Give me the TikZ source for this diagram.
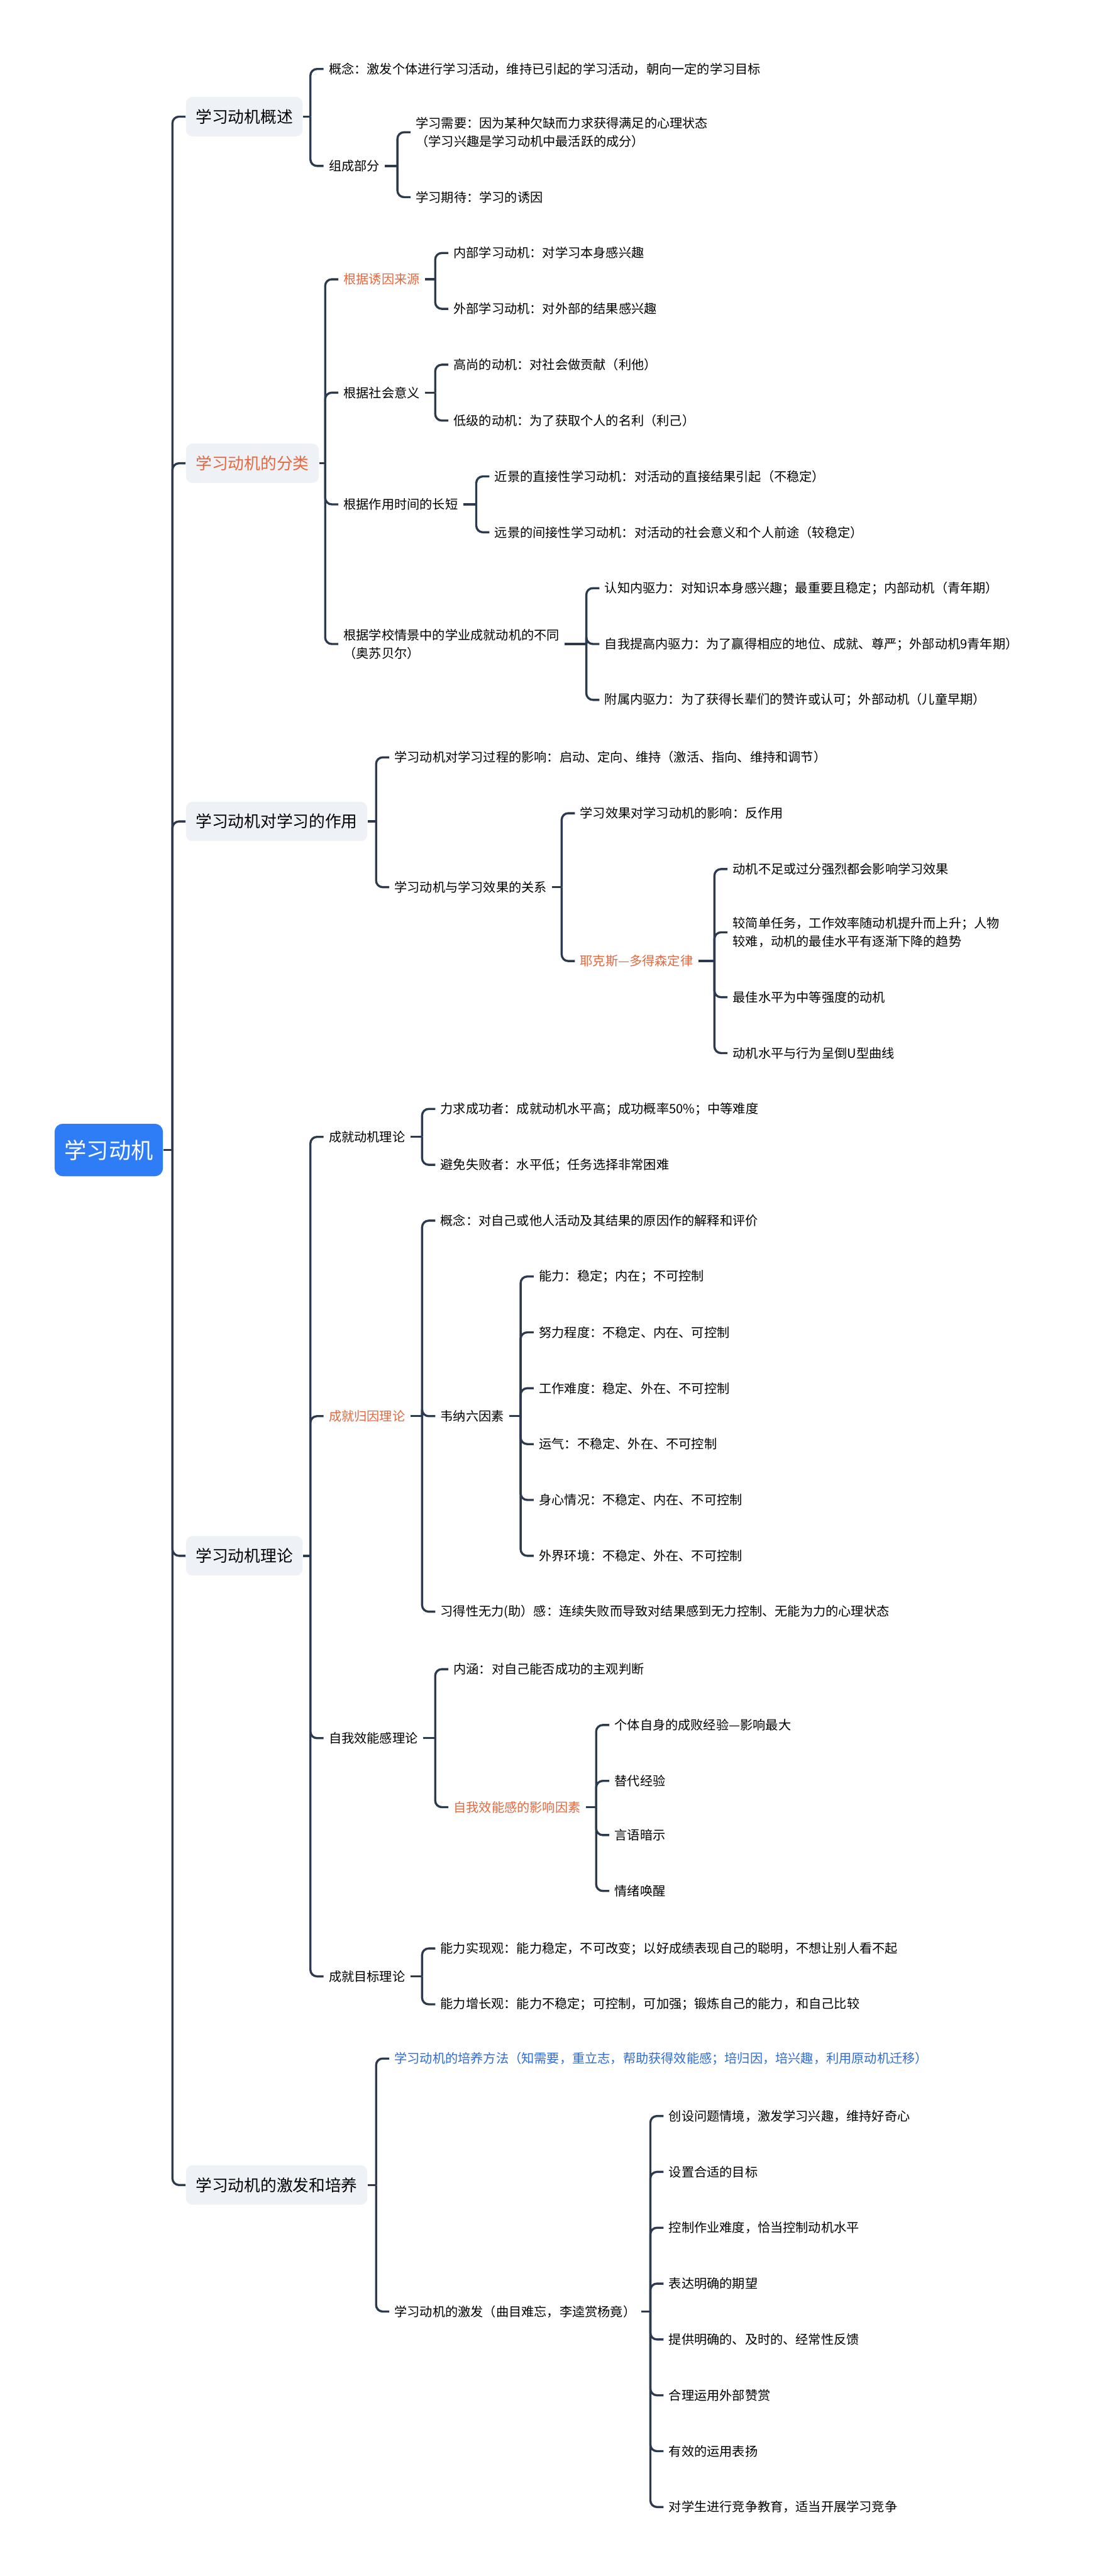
\documentclass[tikz,border=0pt]{standalone}
\usepackage{fontspec}
\setmainfont{Noto Sans CJK SC}
\usetikzlibrary{calc}

\definecolor{linecol}{HTML}{2B3A4E}
\definecolor{boxgray}{HTML}{EEF1F5}
\definecolor{hotcol}{HTML}{E4683E}
\definecolor{coolcol}{HTML}{2F6BD6}
\definecolor{rootblue}{HTML}{2F7DF6}

% parent, first child, all children
\newcommand{\fork}[3]{%
  \coordinate (#1-b) at ($(#2.west |- #1.east)+(-8,0)$);
  \draw[link] (#1.east) -- (#1-b);
  \foreach \kid in {#3} {\draw[link, rounded corners=0.12cm] (#1-b) |- (\kid.west);}
}

\begin{document}
\begin{tikzpicture}[x=0.03cm, y=-0.03cm,
    link/.style={draw=linecol, line width=1.1pt},
    root/.style={fill=rootblue, text=white, rounded corners=0.15cm, anchor=west,
      minimum width=1.98cm, minimum height=0.96cm, font=\fontsize{11.5}{14}\selectfont},
    major/.style={fill=boxgray, rounded corners=0.12cm, anchor=west, inner xsep=0.18cm,
      minimum height=0.72cm, font=\fontsize{8.4}{10}\selectfont},
    leaf/.style={anchor=west, align=left, inner xsep=0.09cm, inner ysep=0.06cm,
      font=\fontsize{6.6}{9.4}\selectfont},
    hot/.style={leaf, text=hotcol},
    cool/.style={leaf, text=coolcol}]

    \fill[white] (0,0) rectangle (672,1568);
    \useasboundingbox (0,0) rectangle (672,1568);

    % the root and the main topics
    \node[root] (root) at (33,700) {学习动机};
    \node[major] (ov) at (113,71) {学习动机概述};
    \node[major, text=hotcol] (cls) at (113,282) {学习动机的分类};
    \node[major] (eff) at (113,500) {学习动机对学习的作用};
    \node[major] (thy) at (113,947) {学习动机理论};
    \node[major] (cul) at (113,1330) {学习动机的激发和培养};

    \fork{root}{ov}{ov,cls,eff,thy,cul}

    % overview
    \node[leaf] (ov1) at (197,42) {概念：激发个体进行学习活动，维持已引起的学习活动，朝向一定的学习目标};
    \node[leaf] (ov2) at (197,101) {组成部分};
    \node[leaf] (ov21) at (250,80.5) {学习需要：因为某种欠缺而力求获得满足的心理状态\\（学习兴趣是学习动机中最活跃的成分）};
    \node[leaf] (ov22) at (250,120) {学习期待：学习的诱因};

    \fork{ov}{ov1}{ov1,ov2}
    \fork{ov2}{ov21}{ov21,ov22}

    % classification
    \node[hot] (cl1) at (206,170) {根据诱因来源};
    \node[leaf] (cl2) at (206,239) {根据社会意义};
    \node[leaf] (cl3) at (206,307) {根据作用时间的长短};
    \node[leaf] (cl4) at (206,392) {根据学校情景中的学业成就动机的不同\\（奥苏贝尔）};

    \node[leaf] (cl11) at (273,154) {内部学习动机：对学习本身感兴趣};
    \node[leaf] (cl12) at (273,188) {外部学习动机：对外部的结果感兴趣};
    \node[leaf] (cl21) at (273,222) {高尚的动机：对社会做贡献（利他）};
    \node[leaf] (cl22) at (273,256) {低级的动机：为了获取个人的名利（利己）};
    \node[leaf] (cl31) at (298,290) {近景的直接性学习动机：对活动的直接结果引起（不稳定）};
    \node[leaf] (cl32) at (298,324) {远景的间接性学习动机：对活动的社会意义和个人前途（较稳定）};
    \node[leaf] (cl41) at (365,358) {认知内驱力：对知识本身感兴趣；最重要且稳定；内部动机（青年期）};
    \node[leaf] (cl42) at (365,392) {自我提高内驱力：为了赢得相应的地位、成就、尊严；外部动机9青年期）};
    \node[leaf] (cl43) at (365,426) {附属内驱力：为了获得长辈们的赞许或认可；外部动机（儿童早期）};

    \fork{cls}{cl1}{cl1,cl2,cl3,cl4}
    \fork{cl1}{cl11}{cl11,cl12}
    \fork{cl2}{cl21}{cl21,cl22}
    \fork{cl3}{cl31}{cl31,cl32}
    \fork{cl4}{cl41}{cl41,cl42,cl43}

    % effect on learning
    \node[leaf] (ef1) at (237,461) {学习动机对学习过程的影响：启动、定向、维持（激活、指向、维持和调节）};
    \node[leaf] (ef2) at (237,540) {学习动机与学习效果的关系};
    \node[leaf] (ef21) at (350,495) {学习效果对学习动机的影响：反作用};
    \node[hot] (ef22) at (350,585) {耶克斯—多得森定律};
    \node[leaf] (yd1) at (443,529) {动机不足或过分强烈都会影响学习效果};
    \node[leaf] (yd2) at (443,567.5) {较简单任务，工作效率随动机提升而上升；人物\\较难，动机的最佳水平有逐渐下降的趋势};
    \node[leaf] (yd3) at (443,607) {最佳水平为中等强度的动机};
    \node[leaf] (yd4) at (443,641) {动机水平与行为呈倒U型曲线};

    \fork{eff}{ef1}{ef1,ef2}
    \fork{ef2}{ef21}{ef21,ef22}
    \fork{ef22}{yd1}{yd1,yd2,yd3,yd4}

    % theories
    \node[leaf] (th1) at (197,692) {成就动机理论};
    \node[hot] (th2) at (197,862) {成就归因理论};
    \node[leaf] (th3) at (197,1058) {自我效能感理论};
    \node[leaf] (th4) at (197,1203) {成就目标理论};

    \node[leaf] (th11) at (265,675) {力求成功者：成就动机水平高；成功概率50\%；中等难度};
    \node[leaf] (th12) at (265,709) {避免失败者：水平低；任务选择非常困难};

    \node[leaf] (th21) at (265,743) {概念：对自己或他人活动及其结果的原因作的解释和评价};
    \node[leaf] (th22) at (265,862) {韦纳六因素};
    \node[leaf] (th23) at (265,981) {习得性无力(助）感：连续失败而导致对结果感到无力控制、无能为力的心理状态};
    \node[leaf] (wn1) at (325,777) {能力：稳定；内在；不可控制};
    \node[leaf] (wn2) at (325,811) {努力程度：不稳定、内在、可控制};
    \node[leaf] (wn3) at (325,845) {工作难度：稳定、外在、不可控制};
    \node[leaf] (wn4) at (325,879) {运气：不稳定、外在、不可控制};
    \node[leaf] (wn5) at (325,913) {身心情况：不稳定、内在、不可控制};
    \node[leaf] (wn6) at (325,947) {外界环境：不稳定、外在、不可控制};

    \node[leaf] (th31) at (273,1016) {内涵：对自己能否成功的主观判断};
    \node[hot] (th32) at (273,1100) {自我效能感的影响因素};
    \node[leaf] (se1) at (371,1050) {个体自身的成败经验—影响最大};
    \node[leaf] (se2) at (371,1084) {替代经验};
    \node[leaf] (se3) at (371,1117) {言语暗示};
    \node[leaf] (se4) at (371,1151) {情绪唤醒};

    \node[leaf] (th41) at (265,1186) {能力实现观：能力稳定，不可改变；以好成绩表现自己的聪明，不想让别人看不起};
    \node[leaf] (th42) at (265,1220) {能力增长观：能力不稳定；可控制，可加强；锻炼自己的能力，和自己比较};

    \fork{thy}{th1}{th1,th2,th3,th4}
    \fork{th1}{th11}{th11,th12}
    \fork{th2}{th21}{th21,th22,th23}
    \fork{th22}{wn1}{wn1,wn2,wn3,wn4,wn5,wn6}
    \fork{th3}{th31}{th31,th32}
    \fork{th32}{se1}{se1,se2,se3,se4}
    \fork{th4}{th41}{th41,th42}

    % stimulating and cultivating
    \node[cool] (cu1) at (237,1253) {学习动机的培养方法（知需要，重立志，帮助获得效能感；培归因，培兴趣，利用原动机迁移）};
    \node[leaf] (cu2) at (237,1407) {学习动机的激发（曲目难忘，李逵赏杨竟）};
    \node[leaf] (st1) at (404,1288) {创设问题情境，激发学习兴趣，维持好奇心};
    \node[leaf] (st2) at (404,1322) {设置合适的目标};
    \node[leaf] (st3) at (404,1356) {控制作业难度，恰当控制动机水平};
    \node[leaf] (st4) at (404,1390) {表达明确的期望};
    \node[leaf] (st5) at (404,1424) {提供明确的、及时的、经常性反馈};
    \node[leaf] (st6) at (404,1458) {合理运用外部赞赏};
    \node[leaf] (st7) at (404,1492) {有效的运用表扬};
    \node[leaf] (st8) at (404,1526) {对学生进行竞争教育，适当开展学习竞争};

    \fork{cul}{cu1}{cu1,cu2}
    \fork{cu2}{st1}{st1,st2,st3,st4,st5,st6,st7,st8}

\end{tikzpicture}
\end{document}
